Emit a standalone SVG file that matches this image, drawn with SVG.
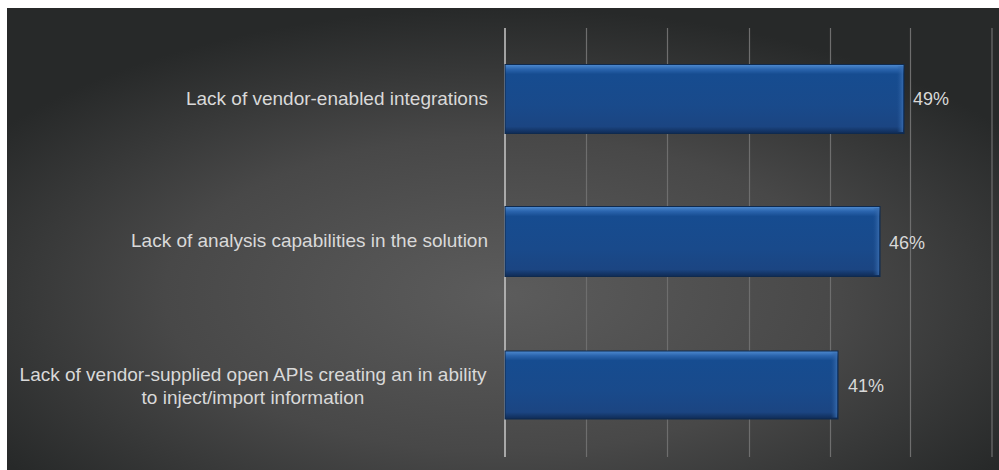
<svg xmlns="http://www.w3.org/2000/svg" width="999" height="470" viewBox="0 0 999 470">
<style>
.lbl{font-family:"Liberation Sans",Arial,sans-serif;font-size:19px;fill:#d9d9d9}
.val{font-family:"Liberation Sans",Arial,sans-serif;font-size:18px;fill:#d9d9d9}
.grid{stroke:#6e6e6e;stroke-width:1.2}
.axis{stroke:#c8c8c8;stroke-width:1.5}
.bar{fill:url(#barg);stroke:#0f2a4e;stroke-width:1}
.hl{fill:url(#barside)}
</style>
<defs>
<radialGradient id="bg" cx="50%" cy="62%" r="62%" fx="50%" fy="62%">
<stop offset="0" stop-color="#5c5c5c"/>
<stop offset="0.55" stop-color="#484848"/>
<stop offset="1" stop-color="#272929"/>
</radialGradient>
<linearGradient id="barg" x1="0" y1="0" x2="0" y2="1">
<stop offset="0" stop-color="#4f8bd0"/>
<stop offset="0.07" stop-color="#2a64ad"/>
<stop offset="0.14" stop-color="#164c90"/>
<stop offset="0.6" stop-color="#194a8b"/>
<stop offset="0.9" stop-color="#1b4582"/>
<stop offset="1" stop-color="#0f2b55"/>
</linearGradient>
<linearGradient id="barside" x1="0" y1="0" x2="1" y2="0">
<stop offset="0" stop-color="#2a5c9e" stop-opacity="0"/>
<stop offset="1" stop-color="#3a6fb2" stop-opacity="0.8"/>
</linearGradient>
</defs>
<rect x="0" y="0" width="999" height="470" fill="#ffffff"/>
<rect x="7" y="8" width="992" height="462" fill="url(#bg)"/>
<g id="gridlines">
<line class="grid" x1="586.5" y1="28" x2="586.5" y2="457"/>
<line class="grid" x1="667.5" y1="28" x2="667.5" y2="457"/>
<line class="grid" x1="749.5" y1="28" x2="749.5" y2="457"/>
<line class="grid" x1="830.5" y1="28" x2="830.5" y2="457"/>
<line class="grid" x1="910.5" y1="28" x2="910.5" y2="457"/>
<line class="grid" x1="992" y1="28" x2="992" y2="457"/>
<line class="axis" x1="505" y1="28" x2="505" y2="457"/>
</g>
<g id="bar1">
<rect class="bar" x="505" y="64.5" width="399" height="69"/>
<rect class="hl" x="897" y="66" width="6" height="66"/>
<text class="lbl" x="488" y="105" text-anchor="end">Lack of vendor-enabled integrations</text>
<text class="val" x="913" y="105">49%</text>
</g>
<g id="bar2">
<rect class="bar" x="505" y="206.5" width="375" height="70"/>
<rect class="hl" x="873" y="208" width="6" height="67"/>
<text class="lbl" x="488" y="247" text-anchor="end">Lack of analysis capabilities in the solution</text>
<text class="val" x="889" y="249">46%</text>
</g>
<g id="bar3">
<rect class="bar" x="505" y="351" width="333" height="68"/>
<rect class="hl" x="831" y="352.5" width="6" height="65"/>
<text class="lbl" x="253" y="381" text-anchor="middle">Lack of vendor-supplied open APIs creating an in ability</text>
<text class="lbl" x="253" y="403.5" text-anchor="middle">to inject/import information</text>
<text class="val" x="848" y="392">41%</text>
</g>
</svg>
